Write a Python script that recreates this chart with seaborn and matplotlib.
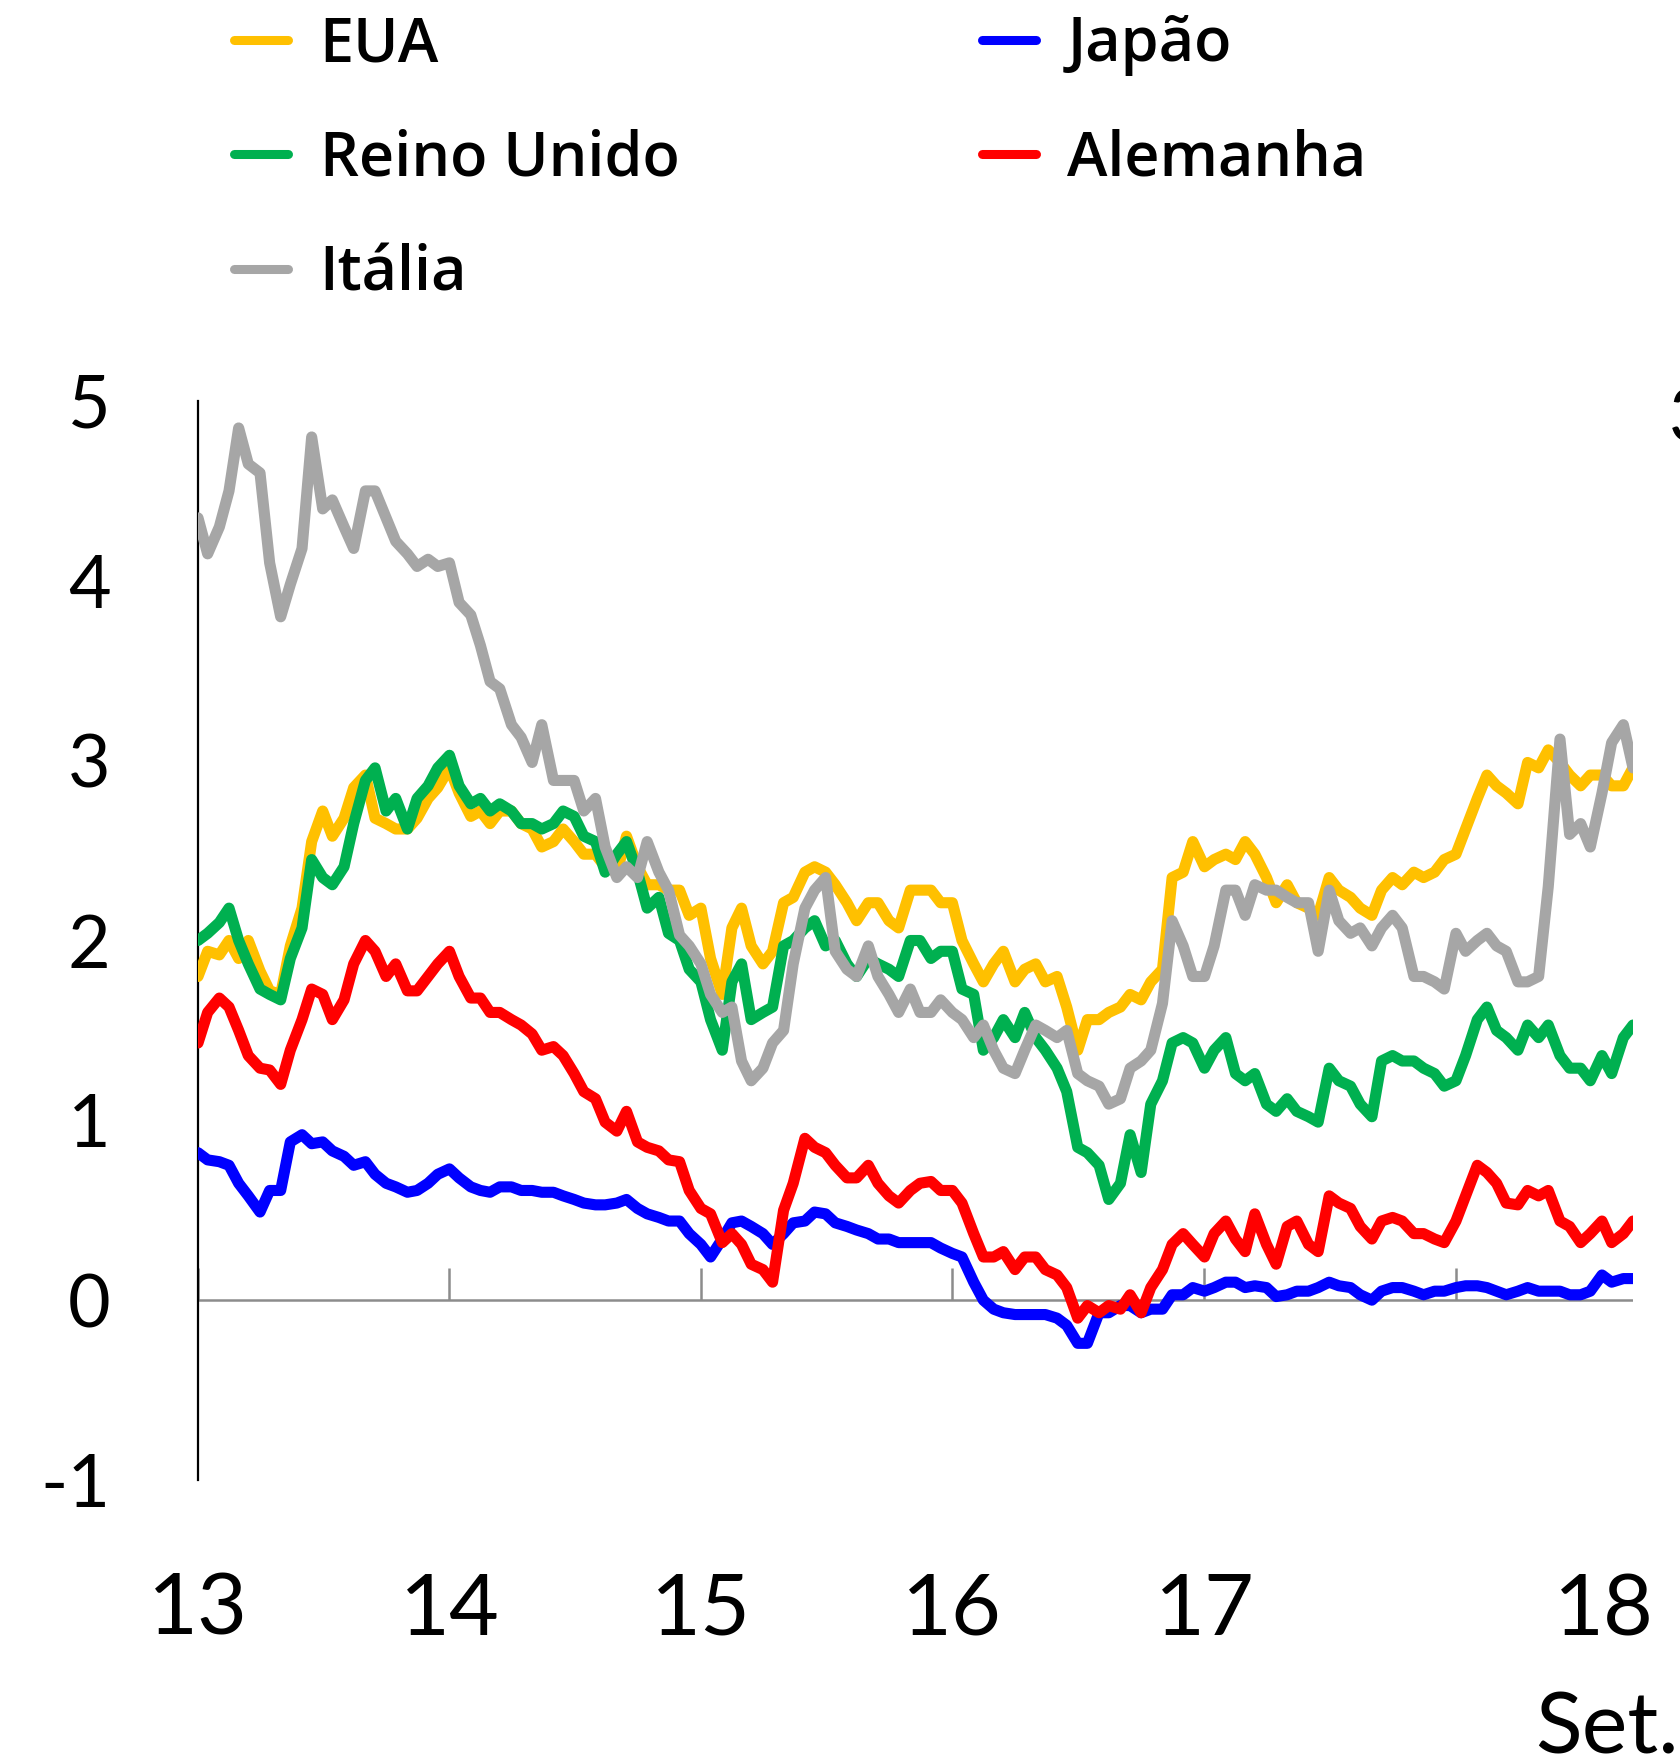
import matplotlib
matplotlib.use("Agg")
import matplotlib.pyplot as plt
import seaborn as sns
import pandas as pd
import numpy as np

# ---------------- data (10-year government bond yields, %) ----------------
dates = pd.date_range("2013-01-01", "2018-09-15", freq="SMS")

eua = [1.80, 1.94, 1.92, 2.00, 1.90, 2.00, 1.83, 1.72, 1.70, 1.97, 2.18, 2.55, 2.72, 2.58, 2.68, 2.85, 2.92, 2.68, 2.65, 2.62, 2.62, 2.68, 2.79, 2.85,
       2.96, 2.82, 2.69, 2.72, 2.65, 2.72, 2.72, 2.65, 2.62, 2.52, 2.55, 2.62, 2.55, 2.48, 2.48, 2.41, 2.38, 2.58, 2.41, 2.31, 2.31, 2.28,
       2.28, 2.14, 2.18, 1.90, 1.70, 2.07, 2.18, 1.97, 1.87, 1.94, 2.21, 2.24, 2.38, 2.41, 2.38, 2.31, 2.21, 2.11, 2.21, 2.21, 2.11, 2.07, 2.28,
       2.28, 2.28, 2.21, 2.21, 2.00, 1.87, 1.77, 1.87, 1.94, 1.77, 1.84, 1.87, 1.77, 1.80, 1.63, 1.39, 1.56, 1.56, 1.60, 1.63, 1.70, 1.67, 1.77,
       1.84, 2.35, 2.38, 2.55, 2.41, 2.45, 2.48, 2.45, 2.55, 2.48, 2.35, 2.21, 2.31, 2.21, 2.18, 2.14, 2.35, 2.28, 2.24, 2.18, 2.14, 2.28, 2.35,
       2.31, 2.38, 2.35, 2.38, 2.45, 2.48, 2.62, 2.79, 2.92, 2.86, 2.82, 2.76, 2.99, 2.96, 3.06, 2.99, 2.92, 2.86, 2.92, 2.92, 2.86, 2.86, 2.96]

reino_unido = [2.00, 2.04, 2.10, 2.18, 2.00, 1.87, 1.73, 1.70, 1.67, 1.90, 2.07, 2.45, 2.35, 2.31, 2.41, 2.65, 2.89, 2.96, 2.72, 2.79, 2.62, 2.79, 2.86, 2.96,
               3.03, 2.86, 2.76, 2.79, 2.72, 2.76, 2.72, 2.65, 2.65, 2.62, 2.65, 2.72, 2.69, 2.58, 2.55, 2.38, 2.48, 2.55, 2.38, 2.18, 2.24, 2.04,
               2.00, 1.84, 1.77, 1.56, 1.39, 1.77, 1.87, 1.56, 1.60, 1.63, 1.97, 2.00, 2.07, 2.11, 1.97, 2.00, 1.87, 1.80, 1.90, 1.87, 1.84, 1.80, 2.00,
               2.00, 1.90, 1.94, 1.94, 1.73, 1.70, 1.39, 1.46, 1.56, 1.46, 1.60, 1.46, 1.39, 1.29, 1.16, 0.85, 0.82, 0.75, 0.56, 0.65, 0.92, 0.71, 1.09,
               1.22, 1.43, 1.46, 1.43, 1.29, 1.39, 1.46, 1.26, 1.22, 1.26, 1.09, 1.05, 1.12, 1.05, 1.02, 0.99, 1.29, 1.22, 1.19, 1.09, 1.02, 1.33, 1.36,
               1.33, 1.33, 1.29, 1.26, 1.19, 1.22, 1.36, 1.56, 1.63, 1.50, 1.46, 1.39, 1.53, 1.46, 1.53, 1.36, 1.29, 1.29, 1.22, 1.36, 1.26, 1.46, 1.53]

italia = [4.35, 4.15, 4.30, 4.50, 4.85, 4.65, 4.60, 4.10, 3.80, 3.98, 4.18, 4.80, 4.40, 4.45, 4.30, 4.18, 4.50, 4.50, 4.35, 4.22, 4.15, 4.08, 4.12, 4.08,
          4.10, 3.88, 3.81, 3.64, 3.44, 3.40, 3.20, 3.13, 2.99, 3.20, 2.89, 2.89, 2.89, 2.72, 2.79, 2.52, 2.35, 2.41, 2.35, 2.55, 2.38, 2.28,
          2.03, 1.97, 1.87, 1.70, 1.60, 1.63, 1.33, 1.22, 1.29, 1.43, 1.50, 1.87, 2.18, 2.28, 2.35, 1.94, 1.84, 1.80, 1.97, 1.80, 1.70, 1.60, 1.73,
          1.60, 1.60, 1.67, 1.60, 1.56, 1.46, 1.53, 1.39, 1.29, 1.26, 1.39, 1.53, 1.50, 1.46, 1.50, 1.26, 1.22, 1.19, 1.09, 1.12, 1.29, 1.33, 1.39,
          1.65, 2.11, 1.97, 1.80, 1.80, 1.97, 2.28, 2.28, 2.14, 2.31, 2.28, 2.28, 2.24, 2.21, 2.21, 1.94, 2.28, 2.11, 2.04, 2.07, 1.97, 2.07, 2.14,
          2.07, 1.80, 1.80, 1.77, 1.73, 2.04, 1.94, 2.00, 2.04, 1.97, 1.94, 1.77, 1.77, 1.80, 2.30, 3.12, 2.59, 2.65, 2.52, 2.82, 3.10, 3.20, 2.96]

alemanha = [1.43, 1.60, 1.68, 1.63, 1.50, 1.36, 1.29, 1.28, 1.20, 1.39, 1.56, 1.73, 1.70, 1.56, 1.67, 1.87, 2.00, 1.94, 1.80, 1.87, 1.72, 1.72, 1.80, 1.87,
            1.94, 1.80, 1.68, 1.68, 1.60, 1.60, 1.56, 1.53, 1.48, 1.39, 1.41, 1.36, 1.26, 1.16, 1.12, 0.99, 0.94, 1.05, 0.88, 0.85, 0.83, 0.78,
            0.77, 0.61, 0.51, 0.48, 0.32, 0.37, 0.31, 0.20, 0.17, 0.10, 0.50, 0.65, 0.90, 0.85, 0.82, 0.75, 0.68, 0.68, 0.75, 0.65, 0.58, 0.54, 0.61,
            0.65, 0.66, 0.61, 0.61, 0.54, 0.37, 0.24, 0.24, 0.27, 0.17, 0.24, 0.24, 0.17, 0.14, 0.07, -0.10, -0.03, -0.07, -0.03, -0.05, 0.03, -0.07, 0.07,
            0.17, 0.31, 0.37, 0.31, 0.24, 0.37, 0.44, 0.34, 0.27, 0.48, 0.31, 0.20, 0.41, 0.44, 0.31, 0.27, 0.58, 0.54, 0.51, 0.41, 0.34, 0.44, 0.46,
            0.44, 0.37, 0.37, 0.34, 0.32, 0.44, 0.58, 0.75, 0.71, 0.65, 0.54, 0.53, 0.61, 0.58, 0.61, 0.44, 0.41, 0.32, 0.37, 0.44, 0.32, 0.37, 0.44]

japao = [0.82, 0.78, 0.77, 0.75, 0.65, 0.58, 0.49, 0.61, 0.61, 0.88, 0.92, 0.87, 0.88, 0.83, 0.80, 0.75, 0.77, 0.70, 0.65, 0.63, 0.60, 0.61, 0.65, 0.70,
         0.73, 0.68, 0.63, 0.61, 0.60, 0.63, 0.63, 0.61, 0.61, 0.60, 0.60, 0.58, 0.56, 0.54, 0.53, 0.53, 0.54, 0.56, 0.51, 0.48, 0.46, 0.44,
         0.44, 0.37, 0.31, 0.24, 0.34, 0.43, 0.44, 0.41, 0.37, 0.31, 0.37, 0.43, 0.44, 0.49, 0.48, 0.43, 0.41, 0.39, 0.37, 0.34, 0.34, 0.32, 0.32,
         0.32, 0.32, 0.29, 0.26, 0.24, 0.10, 0.00, -0.05, -0.07, -0.08, -0.08, -0.08, -0.08, -0.10, -0.14, -0.24, -0.24, -0.07, -0.07, -0.03, -0.03, -0.07, -0.05,
         -0.05, 0.03, 0.03, 0.07, 0.05, 0.07, 0.10, 0.10, 0.07, 0.08, 0.07, 0.02, 0.03, 0.05, 0.05, 0.07, 0.10, 0.08, 0.07, 0.03, 0.00, 0.05, 0.07,
         0.07, 0.05, 0.03, 0.05, 0.05, 0.07, 0.08, 0.08, 0.07, 0.05, 0.03, 0.05, 0.07, 0.05, 0.05, 0.05, 0.03, 0.03, 0.05, 0.14, 0.10, 0.12, 0.12]

series_names = ["EUA", "Reino Unido", "Itália", "Japão", "Alemanha"]
series_values = [eua, reino_unido, italia, japao, alemanha]
colors = {"EUA": "#FFC000", "Reino Unido": "#00B050", "Itália": "#A6A6A6",
          "Japão": "#0000FF", "Alemanha": "#FF0000"}
draw_order = ["Japão", "Alemanha", "EUA", "Reino Unido", "Itália"]

year_ticks = pd.to_datetime(["2013-01-01", "2014-01-01", "2015-01-01", "2016-01-01", "2017-01-01", "2018-01-01"])
x_labels = ["13", "14", "15", "16", "17"]
y_ticks = [-1, 0, 1, 2, 3, 4, 5]
y_labels = ["-1", "0", "1", "2", "3", "4", "5"]
last_label = ("18", "Set.")

frames = [pd.DataFrame({"date": dates, "valor": v, "pais": n}) for n, v in zip(series_names, series_values)]
df = pd.concat(frames, ignore_index=True)

# ---------------- figure ----------------
sns.set_style("white")
plt.rcParams["font.family"] = ["Lato", "DejaVu Sans"]
plt.rcParams["text.color"] = "black"
plt.rcParams["xtick.color"] = "black"
plt.rcParams["ytick.color"] = "black"
plt.rcParams["axes.labelcolor"] = "black"

W, H = 1680, 1762
fig = plt.figure(figsize=(W / 100, H / 100), dpi=100)
ax = fig.add_axes([198 / W, 1 - 1480 / H, (1633 - 198) / W, (1480 - 401) / H])

LW = 8.0
lines = {}
for name in draw_order:
    sub = df[df["pais"] == name]
    sns.lineplot(data=sub, x="date", y="valor", ax=ax, color=colors[name],
                 linewidth=LW, label=name, estimator=None, legend=False,
                 solid_joinstyle="round", solid_capstyle="round", zorder=4)
    lines[name] = ax.get_lines()[-1]
    lines[name].set_linewidth(LW)

ax.set_xlim(dates[0], dates[-1])
ax.set_ylim(-1, 5)
ax.set_xlabel("")
ax.set_ylabel("")

# zero line and year marks
ax.axhline(0, color="#8C8C8C", lw=1.8, zorder=2)
ax.vlines(year_ticks, 0, 0.18, color="#8C8C8C", lw=1.8, zorder=2)

# spines
for s in ["top", "right", "bottom"]:
    ax.spines[s].set_visible(False)
ax.spines["left"].set_color("black")
ax.spines["left"].set_linewidth(1.6)

ax.set_yticks(y_ticks)
ax.set_yticklabels(y_labels)
ax.tick_params(axis="y", direction="in", length=22, width=1.5, color="black",
               labelcolor="black", labelsize=53, pad=63)
ax.yaxis.get_major_ticks()[1].tick1line.set_color("#8C8C8C")

ax.set_xticks(year_ticks[:5])
ax.set_xticklabels(x_labels)
ax.tick_params(axis="x", length=0, labelsize=62, labelcolor="black", pad=66)

# last label (end of sample)
fig.text(1604 / W, 1 - 1635 / H, last_label[0], ha="center", va="baseline", fontsize=62)
fig.text(1607 / W, 1 - 1753 / H, last_label[1], ha="center", va="baseline", fontsize=62)
# clipped right-hand label at figure edge
fig.text(1669 / W, 1 - 421 / H, "3", ha="left", va="center", fontsize=53)

# legend
handles = [lines[n] for n in series_names]
leg = fig.legend(handles, series_names, loc="upper left",
                 bbox_to_anchor=(234 / W, 1 - 14 / H), ncol=2, frameon=False,
                 prop={"family": ["Open Sans", "DejaVu Sans"], "weight": "semibold", "size": 44},
                 handlelength=0.88, handletextpad=0.52, columnspacing=4.95,
                 labelspacing=0.86, borderpad=0, borderaxespad=0)
for lh in leg.get_lines():
    lh.set_linewidth(6.5)

fig.savefig("out.png", dpi=100)
